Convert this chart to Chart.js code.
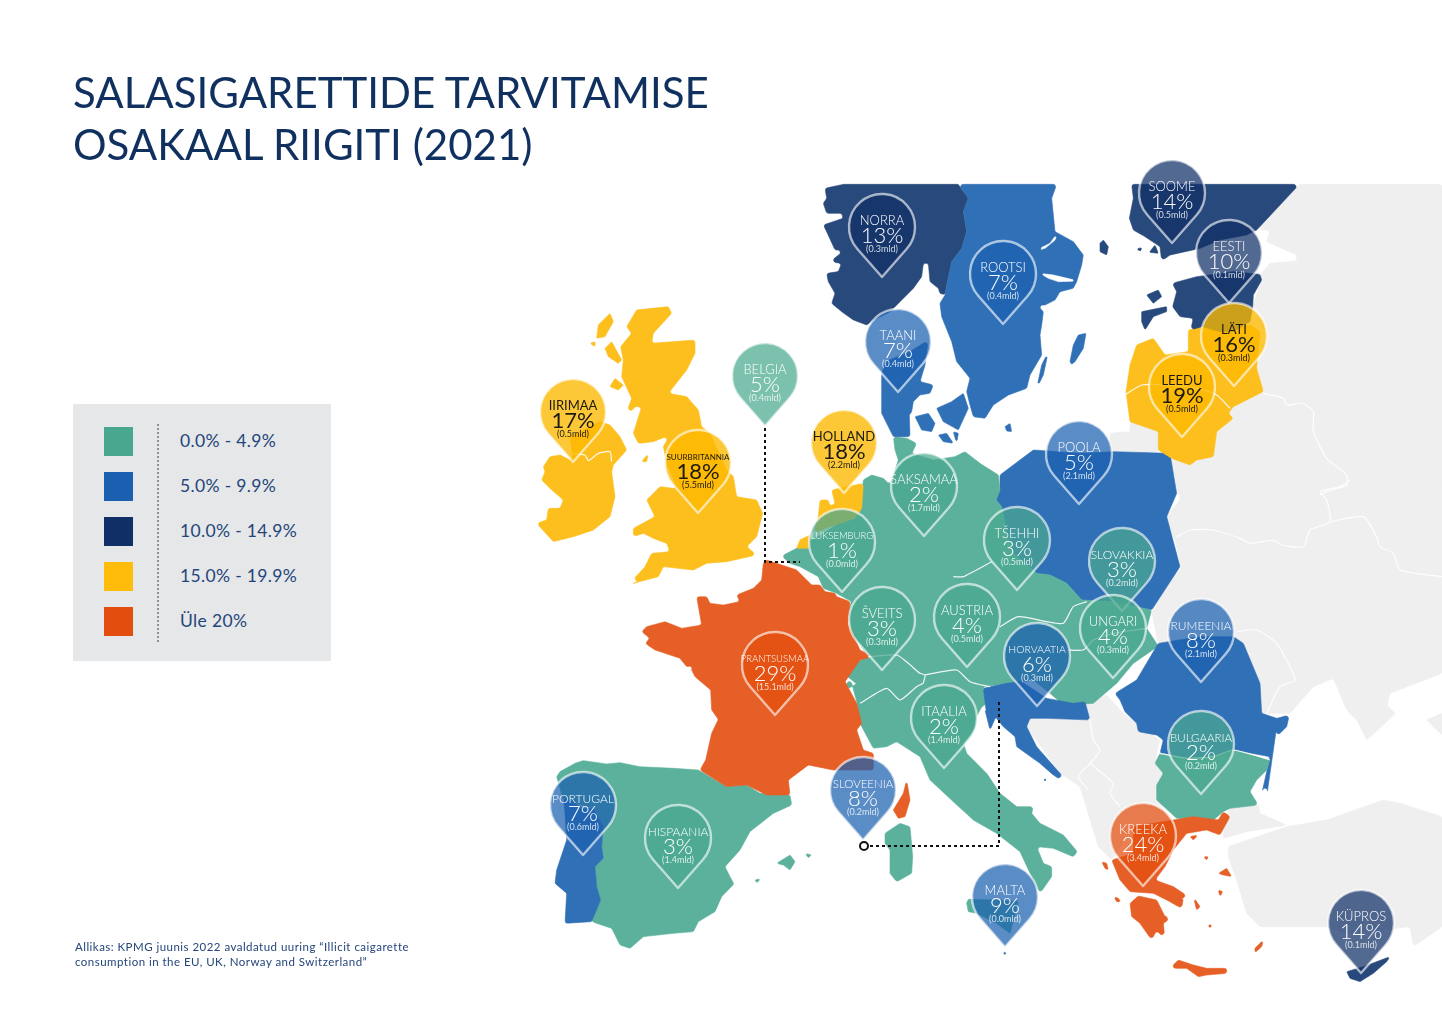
<!DOCTYPE html>
<html lang="et">
<head>
<meta charset="utf-8">
<title>Salasigarettide tarvitamise osakaal riigiti (2021)</title>
<script src="https://cdn.jsdelivr.net/npm/chart.js@4"></script>
<style>
    html, body { margin: 0; background: #fff; }
    #page { position: relative; width: 1442px; height: 1015px; overflow: hidden; font-family: Lato, sans-serif; color: #10315f; }
    #map { position: absolute; left: 0; top: 0; }
    h1 { position: absolute; left: 73px; top: 66px; margin: 0; font-size: 42px; line-height: 52px; font-weight: 400; letter-spacing: 0; }
    #panel { position: absolute; left: 73px; top: 404px; width: 258px; height: 257px; background: #e6e7e9; }
    #panel i { position: absolute; left: 31px; width: 29px; height: 29px; }
    #panel span { position: absolute; left: 107px; font-size: 17.5px; line-height: 29px; letter-spacing: .35px; color: #24457a; }
    #panel b { position: absolute; left: 84px; top: 20px; height: 218px; border-left: 2px dotted #8d9094; }
    #source { position: absolute; left: 75px; top: 940px; font-size: 11.5px; line-height: 14.5px; letter-spacing: .47px; color: #24457a; }
</style>
</head>
<body>
<div id="page">
    <canvas id="map" width="1442" height="1015"></canvas>
    <h1 id="title"></h1>
    <div id="panel"></div>
    <div id="source"></div>
</div>
<script>
const titleLines = ['SALASIGARETTIDE TARVITAMISE', 'OSAKAAL RIIGITI (2021)'];
const sourceLines = ['Allikas: KPMG juunis 2022 avaldatud uuring “Illicit caigarette', 'consumption in the EU, UK, Norway and Switzerland”'];

// legend
const legendLabels = ['0.0% - 4.9%', '5.0% - 9.9%', '10.0% - 14.9%', '15.0% - 19.9%', 'Üle 20%'];

// pins
const pinNames = ['NORRA', 'ROOTSI', 'TAANI', 'SOOME', 'EESTI', 'LÄTI', 'LEEDU', 'IIRIMAA', 'SUURBRITANNIA', 'BELGIA', 'HOLLAND', 'POOLA', 'SAKSAMAA', 'LUKSEMBURG', 'TŠEHHI', 'SLOVAKKIA', 'ŠVEITS', 'AUSTRIA', 'UNGARI', 'HORVAATIA', 'RUMEENIA', 'BULGAARIA', 'ITAALIA', 'SLOVEENIA', 'MALTA', 'KREEKA', 'KÜPROS', 'PRANTSUSMAA', 'PORTUGAL', 'HISPAANIA'];
const pinShare = [13, 7, 7, 14, 10, 16, 19, 17, 18, 5, 18, 5, 2, 1, 3, 3, 3, 4, 4, 6, 8, 2, 2, 8, 9, 24, 14, 29, 7, 3];
const pinVolume = ['0.3', '0.4', '0.4', '0.5', '0.1', '0.3', '0.5', '0.5', '5.5', '0.4', '2.2', '2.1', '1.7', '0.0', '0.5', '0.2', '0.3', '0.5', '0.3', '0.3', '2.1', '0.2', '1.4', '0.2', '0.0', '3.4', '0.1', '15.1', '0.6', '1.4'];
const pinBand = [2, 1, 1, 2, 2, 3, 3, 3, 3, 0, 3, 1, 0, 0, 0, 0, 0, 0, 0, 1, 1, 0, 0, 1, 1, 4, 2, 4, 1, 0];
const pinTipX = [882, 1003, 898, 1172, 1229, 1234, 1182, 573, 698, 765, 844, 1079, 924, 842, 1017, 1122, 882, 967, 1113, 1037, 1201, 1201, 944, 863, 1005, 1143, 1361, 775, 583, 678];
const pinTipY = [277, 324, 392, 243, 303, 386, 437, 462, 513, 426, 493, 504, 536, 592, 590, 611, 670, 667, 678, 706, 682, 794, 768, 840, 947, 886, 973, 715, 855, 888];

// leader lines from the two pins that sit away from their country
const belgiaLeaderX = [765, 765, 800];
const belgiaLeaderY = [428, 562, 562];
const sloveeniaLeaderX = [870, 999, 999];
const sloveeniaLeaderY = [846, 846, 700];
const sloveeniaDotX = [864];
const sloveeniaDotY = [846];

const viewA = [530, 290], viewB = [810, 175], viewC = [1100, 175], viewD = [780, 420], viewE = [540, 560], viewF = [840, 660], viewG = [1100, 480];

const grayNorth = [598,28, 1026,28, 1026,960, 235,960, 215,850, 340,845, 350,770, 400,730, 385,715, 400,695, 490,650, 470,580, 500,480, 458,395, 485,315, 480,300, 510,265, 590,258, 590,240, 500,200, 510,165, 470,165];
const graySouth = [235,0, 1026,0, 1026,580, 870,640, 860,680, 740,690, 700,595, 640,620, 570,700, 485,700, 430,490, 175,490, 160,420, 155,395, 170,340, 245,265, 225,180, 195,115, 240,60];
const grayCrimea = [740,690, 800,650, 860,675, 885,700, 850,735, 800,780, 770,720];
const grayCaucasus = [1026,700, 980,720, 1010,750, 1026,765];
const grayTurkey = [1026,1010, 900,970, 850,960, 680,1020, 560,1040, 385,1100, 385,1130, 410,1200, 440,1300, 480,1340, 600,1340, 680,1340, 740,1360, 930,1340, 940,1400, 1026,1340];
const grayThrace = [390,985, 475,975, 480,1000, 560,1035, 440,1055, 370,1075, 375,1010];
const grayKaliningrad = [30,775, 90,770, 90,740, 175,770, 175,830, 30,840];
const grayBalkans = [735,125, 800,105, 850,160, 900,200, 960,240, 945,300, 980,340, 950,420, 1000,480, 880,500, 815,600, 775,560, 720,380, 660,340, 560,200, 570,175, 620,175, 750,180];

const ireland = [40,530, 60,500, 90,495, 130,515, 120,440, 160,420, 210,395, 240,405, 270,440, 290,480, 250,525, 245,545, 255,620, 240,680, 190,720, 130,740, 70,755, 20,700, 50,690, 55,655, 90,655, 100,630, 65,600, 35,570, 45,545];
const britain = [320,60, 415,50, 425,70, 370,130, 365,160, 495,150, 495,190, 470,240, 415,310, 470,320, 505,360, 515,410, 540,430, 590,540, 610,560, 620,620, 680,630, 698,670, 680,740, 650,770, 680,795, 590,815, 530,820, 490,840, 400,830, 385,860, 310,880, 290,890, 345,830, 365,790, 420,785, 410,760, 370,745, 340,730, 310,740, 310,715, 375,680, 350,630, 390,590, 430,595, 440,590, 410,520, 400,470, 420,435, 370,455, 325,460, 310,430, 335,350, 315,350, 280,395, 305,325, 275,260, 280,210, 272,170, 305,130, 290,110];
const skye = [200,145, 205,105, 240,70, 250,95, 225,140];
const uist = [180,160, 195,155, 195,170];
const mull = [225,175, 245,155, 275,210, 265,220, 235,200];
const islay = [240,290, 255,265, 280,285, 265,300];
const anglesey = [335,515, 355,490, 350,515];

const france = [670,10, 680,0, 770,30, 815,75, 840,75, 855,95, 885,100, 890,110, 930,125, 925,190, 960,270, 1000,290, 960,300, 915,365, 950,430, 965,490, 950,510, 970,570, 1000,580, 1000,630, 880,630, 805,615, 745,660, 750,705, 680,705, 650,690, 620,675, 560,680, 480,630, 497,600, 515,520, 535,478, 515,450, 512,390, 465,350, 455,330, 470,315, 440,320, 420,295, 345,270, 315,250, 330,235, 305,215, 320,200, 375,185, 425,205, 485,195, 470,110, 500,110, 510,130, 550,135, 600,125, 590,105, 640,85, 665,60];
const corsica = [200,360, 210,420, 195,470, 175,475, 160,450, 190,400];
const spain = [105,610, 130,602, 200,612, 240,608, 300,620, 400,625, 475,630, 560,680, 620,675, 660,700, 750,705, 755,735, 700,760, 630,815, 600,870, 555,920, 570,950, 582,972, 545,1010, 525,1055, 475,1085, 460,1115, 400,1120, 310,1130, 270,1165, 240,1155, 215,1105, 155,1085, 182,1020, 170,980, 165,920, 190,895, 185,860, 190,800, 160,745, 70,720, 50,650, 60,635];
const portugal = [70,710, 130,745, 160,745, 190,800, 185,860, 190,895, 165,920, 170,980, 182,1020, 155,1085, 75,1090, 80,1000, 45,970, 50,930, 80,840, 75,760];
const mallorca = [710,910, 750,885, 765,905, 750,930, 730,915];
const menorca = [795,880, 815,885, 805,893];
const ibiza = [645,960, 665,955, 650,968];

const poland = [660,165, 760,90, 900,100, 1000,95, 1170,100, 1190,220, 1160,290, 1200,440, 1115,570, 1000,545, 905,540, 860,490, 810,465, 770,460, 700,400, 680,340, 665,260, 648,240, 660,210];
const central = [5,408, 50,385, 130,340, 240,270, 250,180, 275,165, 310,175, 330,195, 355,120, 345,90, 340,50, 380,55, 410,70, 395,100, 460,120, 525,110, 555,95, 600,130, 655,165, 660,210, 648,240, 665,260, 680,340, 700,400, 770,460, 810,465, 860,490, 905,540, 1000,545, 1115,570, 1100,625, 1135,678, 1060,730, 1010,790, 940,850, 850,855, 810,820, 760,780, 700,790, 610,800, 620,850, 580,880, 420,890, 250,860, 240,800, 190,760, 200,740, 265,710, 215,640, 205,570, 215,545, 170,520, 130,505, 115,470, 60,440, 30,430];
const netherlands = [155,210, 250,190, 245,265, 225,295, 150,320, 100,340, 115,290, 120,240, 145,240, 150,260, 165,250];
const zeeland = [50,385, 60,360, 90,345, 85,385];
const italy = [10,95, 30,50, 50,125, 60,190, 100,265, 140,260, 170,245, 240,290, 270,360, 340,425, 400,480, 470,520, 540,575, 575,650, 600,700, 635,650, 635,620, 610,610, 590,560, 640,565, 700,590, 712,575, 670,525, 600,490, 575,460, 580,440, 530,440, 480,400, 440,340, 380,280, 370,250, 405,205, 410,170, 430,130, 430,85, 300,40, 100,40];
const sardinia = [135,520, 180,490, 210,500, 218,590, 215,640, 170,665, 150,640, 150,570, 135,550];
const sicily = [380,730, 385,718, 470,720, 535,725, 510,820, 470,790, 410,760, 385,755];
const malta = [488,875, 498,878, 495,885];
const croatia = [430,85, 500,70, 545,65, 620,115, 700,130, 735,125, 750,180, 620,175, 570,175, 560,200, 590,260, 660,340, 710,390, 640,345, 600,310, 530,260, 525,230, 490,200, 470,175, 440,165];
const istria = [435,150, 470,165, 450,210];
const krk = [495,150, 525,175, 500,160];
const hvar = [610,358, 650,350, 615,362];

const romania = [45,640, 110,600, 175,490, 300,470, 400,470, 430,490, 480,610, 485,700, 530,715, 568,705, 560,740, 525,775, 530,740, 510,830, 400,810, 340,830, 260,835, 180,820, 190,780, 170,765, 115,755, 110,730, 75,695, 60,660];
const bulgaria = [180,820, 260,835, 340,830, 400,810, 510,840, 500,870, 470,900, 450,935, 475,975, 390,985, 370,995, 340,1020, 230,1015, 170,960, 170,915, 190,880, 165,850];
const greece = [880,500, 1000,480, 1060,470, 1135,480, 1150,455, 1170,470, 1140,525, 1100,510, 1040,520, 1000,570, 975,620, 945,660, 1000,680, 1060,720, 1030,715, 1025,745, 980,720, 940,700, 870,695, 840,660, 815,600, 880,580];
const peloponnese = [870,730, 895,708, 950,720, 975,770, 1000,770, 970,790, 975,840, 950,810, 935,840, 900,790, 875,770];
const crete = [1000,915, 1015,900, 1060,915, 1100,925, 1160,925, 1160,940, 1100,945, 1075,950, 1040,925, 1000,925];
const corfu = [785,605, 800,610, 805,630, 795,625];
const kefalonia = [822,710, 835,715, 842,725, 830,725];
const thasos = [1050,530, 1075,525, 1060,540];
const limnos = [1090,590, 1105,590, 1100,600];
const lesbos = [1135,640, 1160,625, 1175,650, 1150,645];
const chios = [1135,690, 1148,695, 1140,710];
const naxos = [1105,795, 1115,795, 1110,805];
const andros = [1060,710, 1080,740, 1070,750];
const rhodes = [1245,865, 1270,840, 1265,860, 1245,878];
const cyprus = [740,1475, 790,1460, 870,1430, 860,1445, 820,1480, 780,1505, 750,1495];

const norway = [45,40, 100,28, 445,28, 475,70, 460,110, 470,170, 455,220, 425,260, 410,330, 405,360, 390,355, 385,340, 360,320, 355,265, 340,265, 335,305, 310,340, 270,380, 240,410, 190,435, 170,450, 130,435, 95,410, 65,385, 75,355, 55,320, 50,295, 85,290, 95,265, 60,260, 105,225, 75,225, 50,170, 40,150, 100,130, 95,115, 50,115, 40,85, 50,70];
const sweden = [445,28, 740,28, 725,70, 735,170, 790,200, 820,240, 815,270, 800,320, 790,340, 750,350, 735,375, 705,390, 680,390, 700,410, 695,450, 690,480, 695,540, 660,600, 650,640, 595,660, 550,690, 525,730, 490,725, 480,690, 470,650, 480,610, 440,560, 425,500, 395,425, 390,385, 405,360, 410,330, 425,260, 455,220, 470,170, 460,110, 475,70];
const lakeVanern = [680,225, 720,205, 745,170, 735,195, 705,220];
const lakeVattern = [690,295, 730,300, 805,318, 745,320, 715,310];
const gotland = [780,560, 790,510, 805,480, 828,475, 820,520, 795,560, 785,568];
const oland = [680,640, 695,570, 715,530, 700,600];
const bornholm = [585,755, 600,745, 605,770, 590,768];
const aland = [870,205, 880,195, 895,215, 890,240, 870,230];
const jutland = [215,600, 225,560, 300,530, 355,495, 345,570, 330,620, 370,630, 360,655, 330,660, 310,680, 305,710, 298,720, 300,785, 250,785, 215,715, 215,650];
const funen = [315,725, 355,715, 375,745, 365,770, 335,765];
const zealand = [380,700, 425,680, 460,655, 475,700, 445,765, 400,740];
const lolland = [385,780, 410,775, 430,805, 400,800];
const falster = [430,770, 445,775, 440,805];

const finland = [95,28, 598,28, 470,165, 440,180, 360,195, 300,220, 210,240, 185,258, 180,215, 165,205, 135,185, 100,165, 88,130, 100,70];
const finIslandA = [148,232, 165,210, 175,235];
const finIslandB = [108,222, 125,218, 122,228];
const estonia = [217,325, 290,305, 400,290, 480,298, 485,315, 460,360, 458,395, 450,440, 400,470, 360,470, 305,455, 272,465, 280,430, 240,425, 218,395, 230,350];
const saaremaa = [125,410, 200,395, 200,410, 160,425, 135,465, 125,440];
const hiiumaa = [140,360, 175,345, 185,365, 160,385];
const baltics = [265,465, 305,455, 360,470, 450,450, 480,470, 470,580, 490,650, 400,695, 385,715, 400,730, 350,770, 340,845, 290,855, 270,870, 215,850, 175,825, 175,770, 90,740, 78,650, 90,570, 110,510, 160,490, 195,540, 265,530];

// thin white country borders
const lineNorthIreland = [110,490, 165,495, 175,512, 205,490, 240,485, 245,515];
const lineLatviaLithuania = [78,658, 125,630, 200,630, 290,640, 350,660, 390,700];
const lineBelarusNorth = [490,655, 550,670, 560,690, 610,685, 640,710, 640,770, 680,850, 740,900, 740,930, 680,950, 660,960];
const lineUkraineNorth = [230,170, 270,150, 340,150, 420,175, 450,190, 520,180, 545,195, 610,200, 630,150, 690,125, 680,60, 660,35, 720,20, 750,0];
const lineRussiaUkraine = [690,125, 790,110, 830,170, 840,200, 880,220, 900,270, 1026,290];
const lineMoldova = [410,455, 470,450, 530,490, 585,600, 540,620, 500,700];
const lineRomaniaBulgaria = [180,820, 260,835, 340,830, 400,810, 510,840];
const lineSwissItaly = [265,710, 350,705, 385,730, 420,760, 435,765, 430,790];
const lineItalyFrance = [240,850, 320,805, 360,840, 410,800, 430,790];
const lineItalyAustria = [435,765, 530,750, 570,785, 630,800];
const lineCzechia = [520,470, 550,470, 635,425];
const lineAustriaSlovakia = [660,620, 715,590, 800,605, 850,610, 880,560, 920,545];
const lineHungary = [860,690, 910,690, 940,660, 1000,640, 1100,625];
const lineSerbia = [750,180, 760,240, 780,270, 750,310, 715,350, 745,390];
const lineMontenegro = [750,310, 820,370, 810,400, 840,440];

const bandColors = ['#4aa78f', '#1a5fb0', '#0f2f66', '#ffbc0a', '#e34e0e'];
const landColors = { gray: '#efefef', teal: '#5cb19c', blue: '#3070b6', navy: '#28497c', yellow: '#fdbf1e', orange: '#e55f27', white: '#ffffff' };
const pinColors = ['rgba(74,167,143,.72)', 'rgba(26,95,176,.72)', 'rgba(15,47,102,.72)', 'rgba(253,185,0,.78)', 'rgba(227,78,14,.72)'];
const nameSizes = { SUURBRITANNIA: 8, PRANTSUSMAA: 9.5, LUKSEMBURG: 9.5, HORVAATIA: 10.5, SLOVEENIA: 11.5, BULGAARIA: 11.5, SLOVAKKIA: 12, RUMEENIA: 12, PORTUGAL: 12, HISPAANIA: 12 };

// drawing order, back to front
const landLayers = [
    ['gray', viewC, grayNorth], ['gray', viewG, graySouth], ['gray', viewG, grayCrimea], ['gray', viewG, grayCaucasus],
    ['gray', viewG, grayTurkey], ['gray', viewG, grayThrace], ['gray', viewC, grayKaliningrad], ['gray', viewF, grayBalkans],
    ['yellow', viewA, ireland], ['yellow', viewA, britain], ['yellow', viewA, skye], ['yellow', viewA, uist],
    ['yellow', viewA, mull], ['yellow', viewA, islay], ['yellow', viewA, anglesey],
    ['blue', viewD, poland], ['teal', viewD, central], ['teal', viewF, italy], ['teal', viewF, sardinia], ['teal', viewF, sicily],
    ['yellow', viewD, netherlands], ['yellow', viewD, zeeland],
    ['teal', viewE, spain], ['blue', viewE, portugal], ['teal', viewE, mallorca], ['teal', viewE, menorca], ['teal', viewE, ibiza],
    ['orange', viewE, france], ['orange', viewF, corsica],
    ['blue', viewF, croatia], ['blue', viewF, istria], ['blue', viewF, krk], ['blue', viewF, hvar], ['blue', viewF, malta],
    ['blue', viewG, romania], ['teal', viewG, bulgaria],
    ['orange', viewF, greece], ['orange', viewF, peloponnese], ['orange', viewF, crete], ['orange', viewF, corfu],
    ['orange', viewF, kefalonia], ['orange', viewF, thasos], ['orange', viewF, limnos], ['orange', viewF, lesbos],
    ['orange', viewF, chios], ['orange', viewF, naxos], ['orange', viewF, andros], ['orange', viewF, rhodes],
    ['navy', viewG, cyprus],
    ['navy', viewB, norway], ['blue', viewB, sweden], ['white', viewB, lakeVanern], ['white', viewB, lakeVattern],
    ['blue', viewB, gotland], ['blue', viewB, oland], ['blue', viewB, bornholm], ['navy', viewB, aland],
    ['blue', viewB, jutland], ['blue', viewB, funen], ['blue', viewB, zealand], ['blue', viewB, lolland], ['blue', viewB, falster],
    ['navy', viewC, finland], ['navy', viewC, finIslandA], ['navy', viewC, finIslandB],
    ['yellow', viewC, baltics], ['navy', viewC, estonia], ['navy', viewC, saaremaa], ['navy', viewC, hiiumaa]
];
const borderLayers = [
    [viewA, lineNorthIreland], [viewC, lineLatviaLithuania], [viewC, lineBelarusNorth], [viewG, lineUkraineNorth],
    [viewG, lineRussiaUkraine], [viewG, lineMoldova], [viewG, lineRomaniaBulgaria], [viewD, lineSwissItaly],
    [viewD, lineItalyFrance], [viewD, lineItalyAustria], [viewD, lineCzechia], [viewD, lineAustriaSlovakia],
    [viewD, lineHungary], [viewF, lineSerbia], [viewF, lineMontenegro]
];

function toPoints(view, flat) {
    const points = [];
    for (let i = 0; i < flat.length; i += 2) {
        points.push({ x: view[0] + flat[i] / 3, y: view[1] + flat[i + 1] / 3 });
    }
    return points;
}

function zipPoints(xs, ys) {
    return xs.map((x, i) => ({ x: x, y: ys[i] }));
}

// Chart.js has no closed-shape fill for scatter data, so land is painted from the parsed points
const landPlugin = {
    id: 'landFill',
    beforeDatasetDraw(chart, args) {
        const color = chart.data.datasets[args.index].landColor;
        if (!color) return;
        const ctx = chart.ctx;
        const pts = args.meta.data;
        const n = pts.length;
        ctx.save();
        ctx.beginPath();
        ctx.moveTo((pts[n - 1].x + pts[0].x) / 2, (pts[n - 1].y + pts[0].y) / 2);
        // small rounding on each corner, coasts are not straight
        pts.forEach((p, i) => {
            const next = pts[(i + 1) % n];
            ctx.arcTo(p.x, p.y, (p.x + next.x) / 2, (p.y + next.y) / 2, n > 8 ? 2.5 : .8);
        });
        ctx.closePath();
        ctx.fillStyle = color;
        ctx.fill();
        ctx.lineJoin = 'round';
        ctx.lineWidth = .6;
        ctx.strokeStyle = color;
        ctx.stroke();
        ctx.restore();
    }
};

const pinPlugin = {
    id: 'pins',
    afterDatasetDraw(chart, args) {
        if (!chart.data.datasets[args.index].isPins) return;
        const ctx = chart.ctx;
        const radius = 33, reach = 50;
        const spread = Math.acos(radius / reach);
        args.meta.data.forEach((p, i) => {
            const isYellow = pinBand[i] === 3;
            ctx.save();
            ctx.beginPath();
            ctx.arc(p.x, p.y - reach, radius, Math.PI / 2 + spread, Math.PI / 2 - spread);
            ctx.lineTo(p.x, p.y);
            ctx.closePath();
            ctx.fillStyle = pinColors[pinBand[i]];
            ctx.fill();
            ctx.lineWidth = 2.4;
            ctx.lineJoin = 'round';
            ctx.strokeStyle = 'rgba(255,255,255,.62)';
            ctx.stroke();

            ctx.textAlign = 'center';
            ctx.textBaseline = 'middle';
            ctx.fillStyle = isYellow ? '#1c1a12' : '#ffffff';
            ctx.font = (isYellow ? '400 ' : '300 ') + (nameSizes[pinNames[i]] || 13) + 'px Lato, sans-serif';
            ctx.fillText(pinNames[i], p.x, p.y - 56);
            ctx.font = (isYellow ? '400 ' : '300 ') + '22px Lato, sans-serif';
            ctx.fillText(pinShare[i] + '%', p.x, p.y - 41.5);
            ctx.font = '9px Lato, sans-serif';
            ctx.globalAlpha = isYellow ? 1 : .8;
            ctx.fillText('(' + pinVolume[i] + 'mld)', p.x, p.y - 28);
            ctx.restore();
        });
    }
};

function buildDatasets() {
    const layers = [];
    landLayers.forEach(([color, view, flat]) => {
        layers.push({ data: toPoints(view, flat), landColor: landColors[color], showLine: false, pointRadius: 0 });
    });
    borderLayers.forEach(([view, flat]) => {
        layers.push({ data: toPoints(view, flat), showLine: true, borderColor: 'rgba(255,255,255,.9)', borderWidth: 1.2, tension: .2, pointRadius: 0 });
    });
    [[belgiaLeaderX, belgiaLeaderY], [sloveeniaLeaderX, sloveeniaLeaderY]].forEach(([xs, ys]) => {
        layers.push({ data: zipPoints(xs, ys), showLine: true, borderColor: '#111', borderWidth: 2, borderDash: [3, 3], pointRadius: 0 });
    });
    layers.push({ data: zipPoints(pinTipX, pinTipY), isPins: true, showLine: false, pointRadius: 0 });
    layers.push({ data: zipPoints(sloveeniaDotX, sloveeniaDotY), showLine: false, pointRadius: 4, pointBackgroundColor: '#fff', pointBorderColor: '#111', pointBorderWidth: 2 });
    // the first dataset is painted last
    return layers.reverse();
}

function buildPage() {
    document.getElementById('title').innerHTML = titleLines.join('<br>');
    document.getElementById('source').innerHTML = sourceLines.join('<br>');
    const panel = document.getElementById('panel');
    panel.appendChild(document.createElement('b'));
    legendLabels.forEach((label, i) => {
        const box = document.createElement('i');
        box.style.top = (23 + i * 45) + 'px';
        box.style.background = bandColors[i];
        const text = document.createElement('span');
        text.style.top = (22 + i * 45) + 'px';
        text.textContent = label;
        panel.append(box, text);
    });
}

buildPage();

new Chart(document.getElementById('map'), {
    type: 'scatter',
    data: { datasets: buildDatasets() },
    plugins: [landPlugin, pinPlugin],
    options: {
        responsive: false,
        animation: false,
        layout: { padding: 0, autoPadding: false },
        clip: false,
        plugins: { legend: { display: false }, tooltip: { enabled: false } },
        scales: {
            x: { type: 'linear', min: 0, max: 1442, display: false },
            y: { type: 'linear', min: 0, max: 1015, reverse: true, display: false }
        }
    }
});
</script>
</body>
</html>
